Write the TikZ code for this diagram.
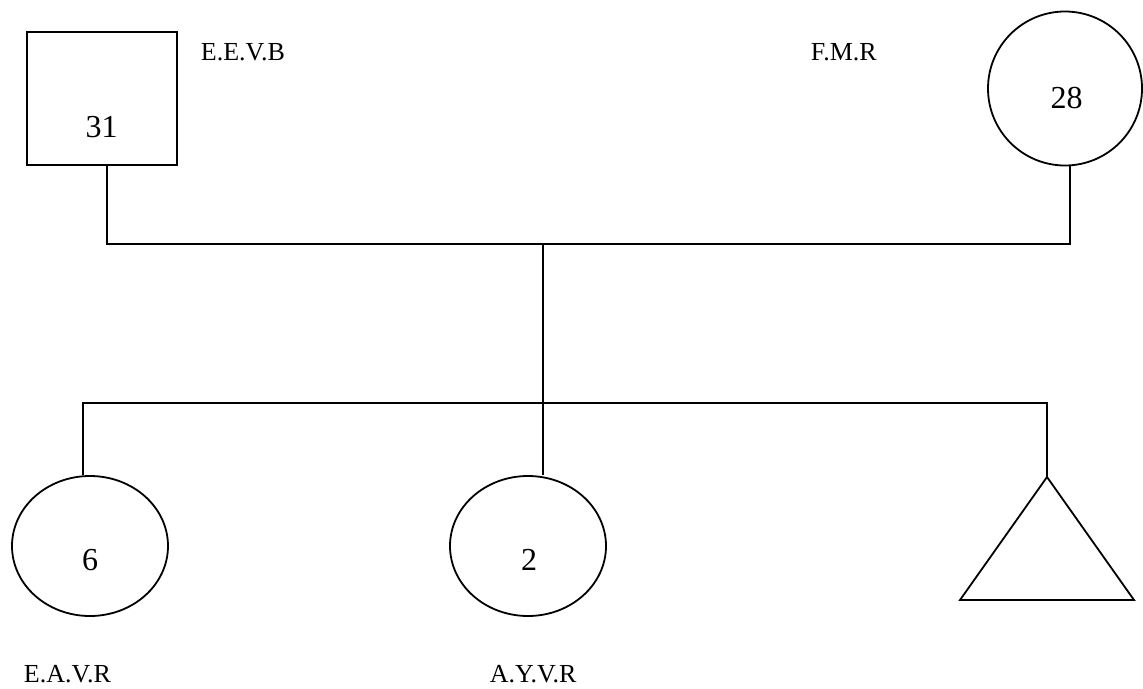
\documentclass[tikz,border=0pt]{standalone}
\usepackage{fontspec}
\setmainfont{Liberation Serif}
\usetikzlibrary{
    shapes.geometric,
    positioning
}
\tikzset{
    kin/.style={draw, inner sep=0pt},
    tag/.style={anchor=base west, inner sep=0pt, font=\fontsize{26}{31}\selectfont},
    num/.style={anchor=base, inner sep=0pt, font=\fontsize{32}{38}\selectfont}
}

\begin{document}
\begin{tikzpicture}[x=1pt, y=-1pt, line width=1.8pt]
                        \useasboundingbox (0, 0) rectangle (1143, 688);

                        \node[kin, rectangle, minimum width=150pt, minimum height=133pt] (fa) at (102, 98.5) {};
                        \node[kin, circle, minimum size=154pt] (mo) at (1065, 88.5) {};
                        \node[kin, ellipse, minimum width=156pt, minimum height=140pt] (d1) at (90, 546) {};
                        \node[kin, ellipse, minimum width=156pt, minimum height=140pt] (d2) at (528, 546) {};
                        \coordinate (so) at (1047, 477);
                        \draw (so) -- ++(-87, 123) -- ++(174, 0) -- cycle;

                        \node[num] (fan) at (101.5, 137) {31};
                        \node[num] (mon) at (1066.5, 108) {28};
                        \node[num] (d1n) at (90, 570) {6};
                        \node[num] (d2n) at (529, 570) {2};

                        \node[tag] (fat) at (200, 60) {E.E.V.B};
                        \node[tag] (mot) at (810, 60) {F.M.R};
                        \node[tag] (d1t) at (23, 682) {E.A.V.R};
                        \node[tag] (d2t) at (489, 682) {A.Y.V.R};

                        \coordinate (cpl) at (543, 244);
                        \coordinate (sib) at (543, 403);

                        \draw ([xshift=5pt]fa.south) |- (cpl) -| ([xshift=5pt]mo.south);
                        \draw (cpl) -- (cpl |- d2.north);
                        \draw ([xshift=-7pt]d1.north) |- (sib) -| (so);
                    \end{tikzpicture}
\end{document}
